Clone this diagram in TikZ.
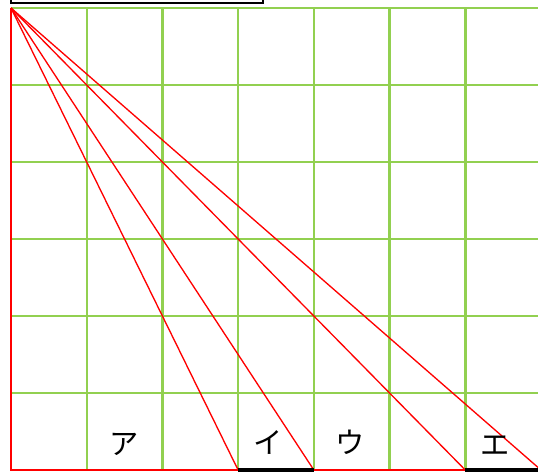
\documentclass[tikz,border=0pt]{standalone}
\usepackage{fontspec}
\newfontfamily\jpfont{Noto Sans CJK JP}
\usetikzlibrary{positioning}
\definecolor{gridgreen}{RGB}{146,208,80}

\begin{document}
\begin{tikzpicture}[
    x=1cm, y=1.017cm,
    gridline/.style={draw=gridgreen, line width=0.9pt},
    ray/.style={draw=red, line width=0.5pt},
    base/.style={draw=black, line width=1.3pt},
    kana/.style={font=\jpfont\fontsize{11}{13}\selectfont, inner sep=1pt}
]
    \useasboundingbox (-0.145,-0.013) rectangle (6.96,6.104);

    % 方眼
    \foreach \i in {0,...,6} {
        \draw[gridline] (\i,0) -- (\i,6);
    }
    \foreach \j in {0,...,6} {
        \draw[gridline] (0,\j) -- (6.96,\j);
    }

    % 上の枠
    \draw[line width=0.8pt] (0,6.065) rectangle (3.33,6.6);

    % 点
    \coordinate (O) at (0,6);
    \coordinate (A) at (0,0);
    \foreach \k in {3,4,6,7} {
        \coordinate (B\k) at (\k,0);
    }

    % 赤い線
    \draw[ray] (O) -- (A) -- (B6);
    \draw[ray] (O) -- (B3);
    \draw[ray] (O) -- (B4);
    \draw[ray] (O) -- (B6);
    \draw[ray] (O) -- (B7);

    % 底辺
    \draw[base] (B3) -- (B4);
    \draw[base] (B6) -- (B7);

    % ラベル
    \node[kana] (la) at (1.5,0.33) {ア};
    \node[kana] (li) at (3.4,0.36) {イ};
    \node[kana] (lu) at (4.48,0.36) {ウ};
    \node[kana] (le) at (6.39,0.31) {エ};
\end{tikzpicture}
\end{document}
